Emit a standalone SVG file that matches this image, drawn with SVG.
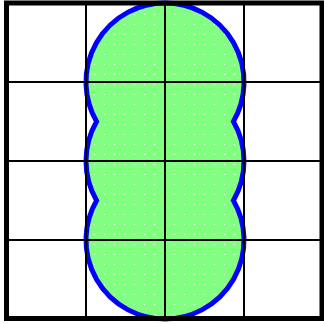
<svg xmlns="http://www.w3.org/2000/svg" width="324" height="324" viewBox="0 0 324 324">
<style>
.grid{stroke:#000;stroke-width:2;fill:none}
.frame{stroke:#000;stroke-width:5;fill:none}
.blob{fill:url(#dots);stroke:#0000ff;stroke-width:5;stroke-linejoin:miter}
</style>
<defs>
<pattern id="dots" width="10" height="10" patternUnits="userSpaceOnUse">
<rect width="10" height="10" fill="#80ff80"/>
<rect x="4" y="4" width="1" height="1" fill="#e8ffe8"/>
</pattern>
</defs>
<rect x="0" y="0" width="324" height="324" fill="#fff"/>
<g id="shape">
<path class="blob" d="M96.58,121.5 A79,79 0 1,1 233.42,121.5 A79,79 0 0,1 233.42,200.5 A79,79 0 1,1 96.58,200.5 A79,79 0 0,1 96.58,121.5 Z"/>
</g>
<g id="grid">
<path class="grid" d="M86,3V319M165,3V319M244,3V319M7,82H322M7,161H322M7,240H322"/>
</g>
<g id="frame">
<rect class="frame" x="6.5" y="3" width="315.5" height="315.5"/>
</g>
</svg>
